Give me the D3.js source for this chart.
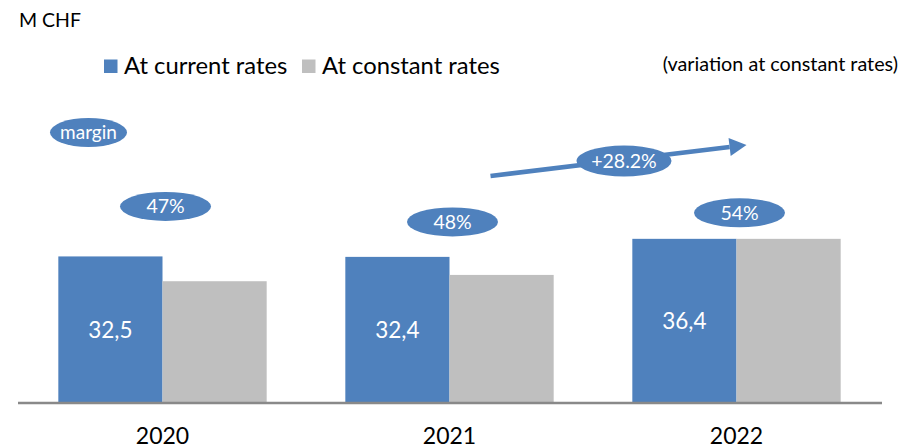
<!DOCTYPE html>
<html>
<head>
<meta charset="utf-8">
<script src="https://cdn.jsdelivr.net/npm/d3@7"></script>
<style>
  html, body { margin: 0; padding: 0; background: #fff; }
  svg { display: block; font-family: Lato, "Open Sans", sans-serif; }
</style>
</head>
<body>
<svg id="chart" width="902" height="448"></svg>
<script>
// ---- data ----
const years = ["2020", "2021", "2022"];
const currentRates = [32.5, 32.4, 36.4];
const constantRates = [27.0, 28.4, 36.4];
const margins = ["47%", "48%", "54%"];
const variationLabel = "+28.2%";
const seriesNames = ["At current rates", "At constant rates"];

// ---- layout ----
const baseY = 403;
const colors = ["#4F81BD", "#BFBFBF"];
const marginDy = [-50, -35, -26]; // offset of margin bubble from top of blue bar

const svg = d3.select("#chart");

const x0 = d3.scaleBand().domain(years).range([19, 880]).paddingInner(0.274).paddingOuter(0.137);
const x1 = d3.scaleBand().domain([0, 1]).range([0, x0.bandwidth()]);
const y = d3.scaleLinear().domain([0, 40]).range([baseY, baseY - 40 * 4.51]);

// bars
const groups = svg.selectAll("g.grp").data(years).join("g")
  .attr("class", "grp")
  .attr("transform", d => `translate(${x0(d)},0)`);

groups.append("rect")
  .attr("x", x1(0)).attr("width", x1.bandwidth())
  .attr("y", (d, i) => y(currentRates[i]))
  .attr("height", (d, i) => y(0) - y(currentRates[i]))
  .attr("fill", colors[0]);

groups.append("rect")
  .attr("x", x1(1)).attr("width", x1.bandwidth())
  .attr("y", (d, i) => y(constantRates[i]))
  .attr("height", (d, i) => y(0) - y(constantRates[i]))
  .attr("fill", colors[1]);

// value labels inside blue bars
groups.append("text")
  .attr("x", x1(0) + x1.bandwidth() / 2)
  .attr("y", (d, i) => (y(currentRates[i]) + y(0)) / 2)
  .attr("dy", "0.36em")
  .attr("text-anchor", "middle")
  .attr("fill", "#fff")
  .attr("font-size", 22.5)
  .text((d, i) => currentRates[i].toFixed(1).replace(".", ","));

// axis
const xAxis = d3.axisBottom(x0).tickSize(0).tickPadding(25);
const ax = svg.append("g").attr("transform", `translate(0,${baseY})`).call(xAxis);
ax.select(".domain").remove();
ax.insert("line", ":first-child").attr("x1", 18).attr("x2", 882).attr("y1", 0).attr("y2", 0)
  .attr("stroke", "#898989").attr("stroke-width", 2.3);
ax.selectAll("text").attr("font-size", 23).attr("fill", "#000")
  .attr("font-family", "Lato, sans-serif");

// bubble helper
function bubble(cx, cy, rx, ry, label, fs) {
  svg.append("ellipse").attr("cx", cx).attr("cy", cy).attr("rx", rx).attr("ry", ry)
    .attr("fill", colors[0]);
  svg.append("text").attr("x", cx).attr("y", cy).attr("dy", "0.35em")
    .attr("text-anchor", "middle").attr("fill", "#fff").attr("font-size", fs)
    .text(label);
}

// margin bubbles
years.forEach((yr, i) => {
  const cx = x0(yr) + x0.bandwidth() / 2 + 3;
  bubble(cx, y(currentRates[i]) + marginDy[i], 45.5, 14.5, margins[i], 19.5);
});
bubble(88.5, 132.5, 38.5, 14.5, "margin", 19);

// variation arrow
const ax0 = x0("2021") + x0.bandwidth() / 2 + 41, ay0 = 176;
const ax1 = x0("2022") + x0.bandwidth() / 2 + 10, ay1 = 145;
const ang = Math.atan2(ay1 - ay0, ax1 - ax0);
const headLen = 17, headW = 9;
const bx = ax1 - headLen * Math.cos(ang), by = ay1 - headLen * Math.sin(ang);
svg.append("line").attr("x1", ax0).attr("y1", ay0).attr("x2", bx).attr("y2", by)
  .attr("stroke", colors[0]).attr("stroke-width", 4.5);
svg.append("polygon")
  .attr("points", [
    [ax1, ay1],
    [bx + headW * Math.sin(ang), by - headW * Math.cos(ang)],
    [bx - headW * Math.sin(ang), by + headW * Math.cos(ang)]
  ].map(p => p.join(",")).join(" "))
  .attr("fill", colors[0]);
bubble(624, 161, 47.5, 15.5, variationLabel, 19.5);

// title / notes
svg.append("text").attr("x", 19).attr("y", 27).attr("font-size", 19.5).attr("fill", "#000").text("M CHF");
svg.append("text").attr("x", 898).attr("y", 71).attr("text-anchor", "end")
  .attr("font-size", 19.8).attr("fill", "#000").text("(variation at constant rates)");

// legend
const leg = svg.append("g");
const legX = [104, 302];
seriesNames.forEach((n, i) => {
  leg.append("rect").attr("x", legX[i]).attr("y", 59.5).attr("width", 13.5).attr("height", 13.5).attr("fill", colors[i]);
  leg.append("text").attr("x", legX[i] + 20).attr("y", 74).attr("font-size", 23.8).attr("fill", "#000").text(n);
});
</script>
</body>
</html>
